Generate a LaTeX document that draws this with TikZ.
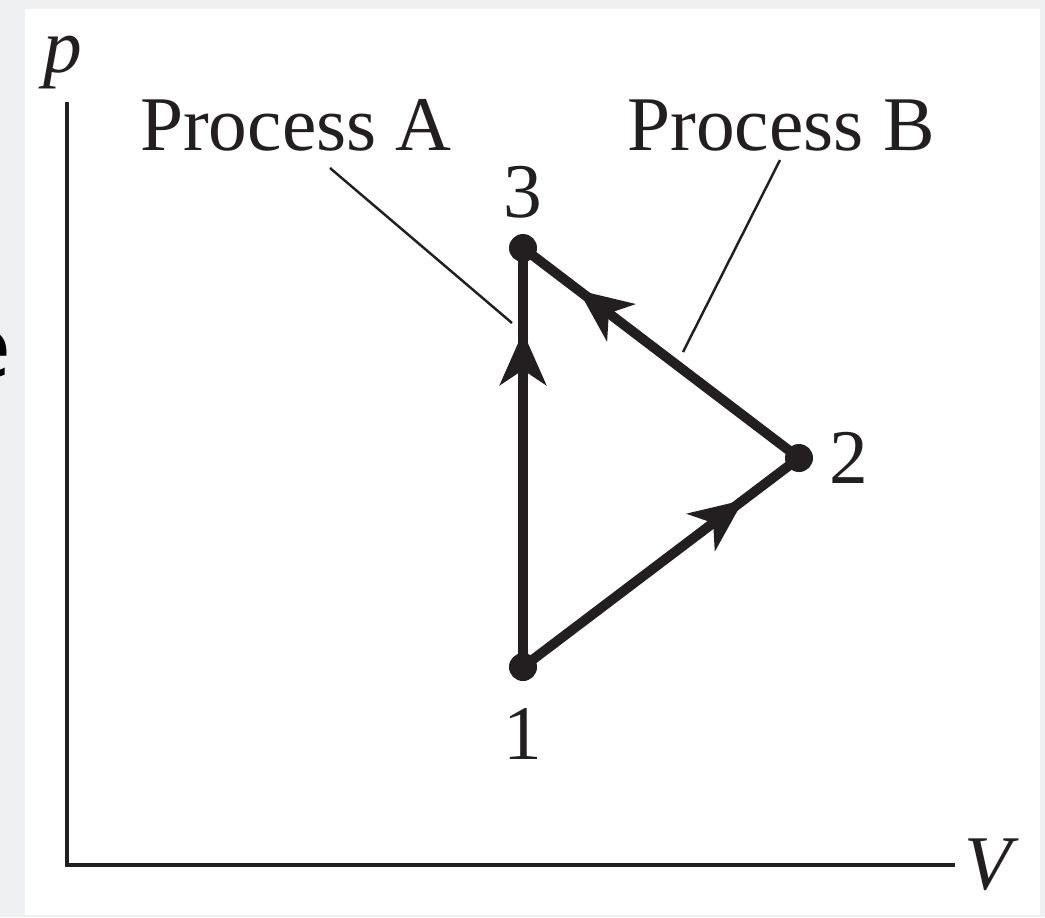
\documentclass[tikz,border=0pt]{standalone}
\usepackage{fontspec}
\setmainfont{Liberation Serif}
\newfontfamily\edgefont{DejaVu Sans}
\usepackage{tikz}
\usetikzlibrary{arrows.meta,positioning,decorations.markings}
\usepackage{xcolor}
\definecolor{figink}{HTML}{231F20}
\definecolor{pagegray}{HTML}{EEF0F2}

\begin{document}
\begin{tikzpicture}[
  x=0.01cm, y=-0.01cm,
  font=\fontsize{22}{26}\selectfont,
  axis/.style={draw=figink, line width=1.4pt},
  leader/.style={draw=figink, line width=0.7pt},
  procline/.style={draw=figink, line width=2.8pt, postaction={decorate},
    decoration={markings, mark=at position 0.8 with {\arrow{Stealth[length=5.3mm,width=4.6mm,inset=1.5mm]}}}},
  dot/.style={circle, fill=figink, inner sep=0pt, minimum size=0.28cm},
  num/.style={text=figink, inner sep=0pt},
  caption/.style={text=figink, inner sep=0pt, anchor=base}
]
\clip (0,0) rectangle (1045,917);
\fill[pagegray] (0,0) rectangle (1045,917);
\fill[white] (25,9) rectangle (1040,915);
\node[font=\edgefont\fontsize{24}{28}\selectfont, anchor=east, inner sep=0pt] (cut) at (12,354) {e};
% axes
\coordinate (origin) at (67,865);
\coordinate (ptop) at (67,102);
\coordinate (vend) at (955,865);
\draw[axis] (ptop) -- (origin) -- (vend);
\node[num, font=\fontsize{22}{26}\selectfont\itshape] (plab) at (63,62) {p};
\node[num, font=\fontsize{22}{26}\selectfont\itshape] (vlab) at (988,865) {V};
% states
\node[dot] (p1) at (523,667) {};
\node[dot] (p2) at (799,458) {};
\node[dot] (p3) at (523,248) {};
\node[num, below=0.26cm of p1] (n1) {1};
\node[num, right=0.15cm of p2] (n2) {2};
\node[num, above=0.14cm of p3] (n3) {3};
% processes
\draw[procline] (p1.center) -- (p3.center);
\draw[procline] (p1.center) -- (p2.center);
\draw[procline] (p2.center) -- (p3.center);
% captions
\node[caption] (procA) at (296,150) {Process A};
\node[caption] (procB) at (781,150) {Process B};
\coordinate (legA) at (512,323);
\coordinate (legB) at (683,352);
\draw[leader] (330,168) -- (legA);
\draw[leader] (780,160) -- (legB);
\end{tikzpicture}
\end{document}
